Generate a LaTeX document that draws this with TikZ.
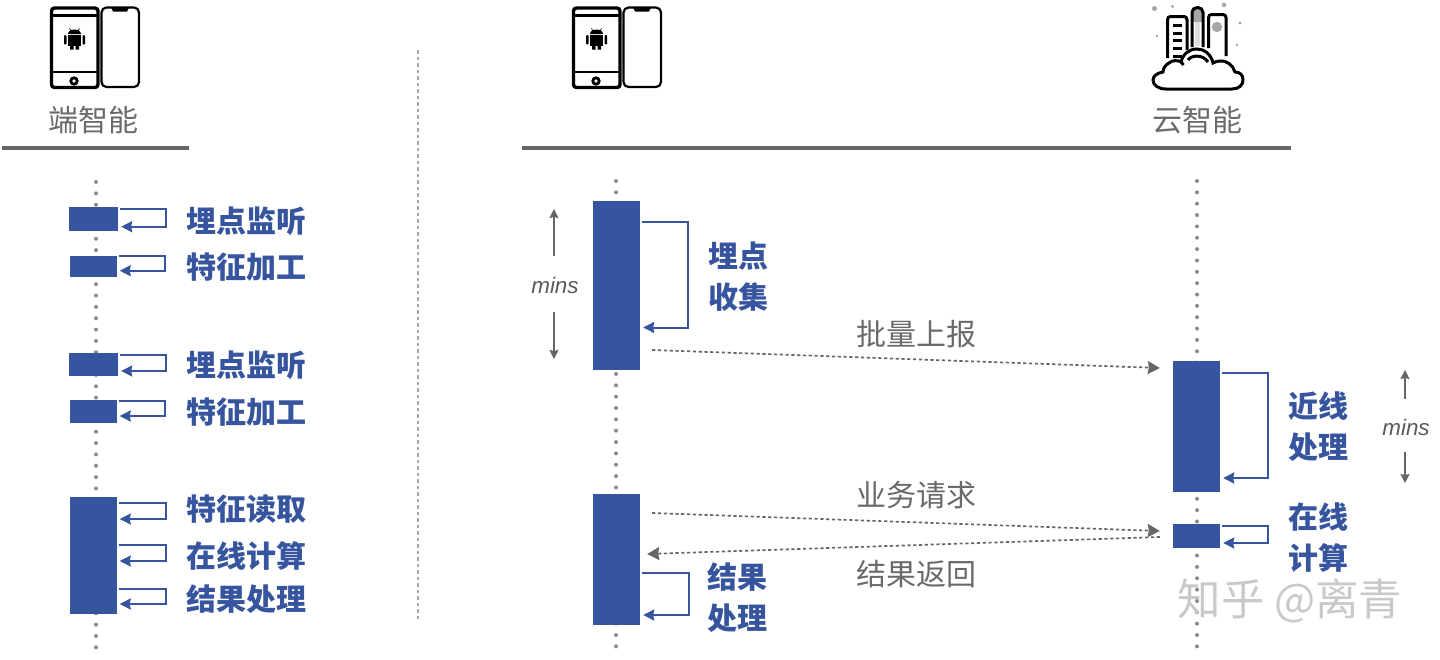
\documentclass[tikz,border=0pt]{standalone}
\usepackage{fontspec}
\setmainfont{Noto Sans CJK SC}
\newfontfamily\latinit[ItalicFont={Liberation Sans Italic}]{Liberation Sans}
\usetikzlibrary{arrows.meta}
\definecolor{barblue}{HTML}{37559F}
\definecolor{txtgray}{HTML}{6A6A6A}
\definecolor{rulegray}{HTML}{666666}
\definecolor{dotgray}{HTML}{8A8A8A}
\definecolor{markgray}{HTML}{C9C9C9}
\newcommand{\selfloop}[4]{\draw[selfline] ([xshift=2pt]#1.east |- 0,#2) -- (#4,#2) -- (#4,#3) -- ([xshift=3pt]#1.east |- 0,#3);}
\newcommand{\phonepair}[1]{
	\begin{scope}[shift={(#1,0)}]
		\draw[line width=3.4pt,rounded corners=3pt] (51.5,8) rectangle (98,87.5);
		\draw[line width=2.6pt] (51,15.5) -- (98,15.5) (51,72) -- (98,72);
		\draw[line width=2.8pt] (74,81) circle (3.2);
		\draw[line width=2.2pt,rounded corners=5pt] (101.5,7.5) rectangle (139,87);
		\fill (111,7.5) -- (129,7.5) -- (127,11.5) -- (113,11.5) -- cycle;
		% android
		\fill (68,35) rectangle (81,45.5);
		\fill (70,45) rectangle (73.5,49.5) (75.5,45) rectangle (79,49.5);
		\fill[rounded corners=1pt] (64,35) rectangle (66.5,44.5) (82.5,35) rectangle (85,44.5);
		\fill (68,34) arc (180:360:6.5 and 4.5) -- cycle;
		\draw[line width=.7pt] (69.5,28.5) -- (71,31) (79.5,28.5) -- (78,31);
	\end{scope}
}
\tikzset{
	bar/.style={fill=barblue,inner sep=0,minimum width=47pt},
	lifeline/.style={draw=dotgray,line width=4pt,line cap=round,dash pattern=on 0pt off 11.35pt},
	selfline/.style={draw=barblue,line width=2pt,-{Stealth[length=11pt,width=11pt,inset=1pt]}},
	msgline/.style={draw=rulegray,line width=1.7pt,dash pattern=on 3.2pt off 2.6pt,-{Stealth[length=12pt,width=13pt,inset=1pt]}},
	minsline/.style={draw=rulegray,line width=1.1pt,-{Stealth[length=9pt,width=9pt,inset=1pt]}},
	toprule/.style={draw=rulegray,line width=3.4pt},
	bluetxt/.style={text=barblue,font=\fontsize{30}{32}\selectfont\bfseries,inner sep=0,yshift=-.8pt},
	graytxt/.style={text=txtgray,font=\fontsize{30}{32}\selectfont,inner sep=0,yshift=-.8pt},
	minstxt/.style={text=txtgray!85!black,font=\latinit\fontsize{22.4}{26}\selectfont\itshape,inner sep=0}
}
\begin{document}
\begin{tikzpicture}[x=1pt,y=-1pt]
	\useasboundingbox (0,0) rectangle (1440,659);

	% headers
	\phonepair{0}
	\phonepair{522}
	\node[graytxt] (edgehead) at (93,119) {端智能};
	\node[graytxt] (cloudhead) at (1197,119) {云智能};
	\coordinate (edgeL) at (2,148);
	\coordinate (edgeR) at (189,148);
	\coordinate (cloudL) at (522,148);
	\coordinate (cloudR) at (1291,148);
	\draw[toprule] (edgeL) -- (edgeR);
	\draw[toprule] (cloudL) -- (cloudR);

	% cloud icon
	\begin{scope}[line width=3pt]
		\fill[gray!70] (1193,9) rectangle (1202,22);
		\fill[gray!25] (1195,22) rectangle (1200,46);
		\fill[gray!70] (1217,27) circle (5.2);
		\draw[rounded corners=3pt] (1167.5,58) -- (1167.5,16.5) -- (1187,16.5) -- (1187,50);
		\draw[rounded corners=5pt] (1192,47) -- (1192,7.5) -- (1203,7.5) -- (1203,47);
		\draw[rounded corners=3pt] (1208.5,48) -- (1208.5,14.5) -- (1226,14.5) -- (1226,56);
		\foreach \yy in {25,33,40.5,48,56}
			\draw (1173,\yy) -- (1182,\yy);
		\draw[fill=white,rounded corners=0pt] (1166,89) -- (1232,89)
			.. controls (1239,89) and (1243,85) .. (1243,80)
			.. controls (1243,75) and (1240,72) .. (1235,72)
			.. controls (1233,65) and (1226,60) .. (1220,61)
			.. controls (1217,61) and (1215,62) .. (1213,63)
			.. controls (1211,54) and (1204,49) .. (1197,49)
			.. controls (1189,49) and (1183,54) .. (1181,62)
			.. controls (1178,60) and (1172,60) .. (1169,63)
			.. controls (1165,65) and (1163,69) .. (1163,72)
			.. controls (1157,73) and (1153,76) .. (1153,80)
			.. controls (1153,85) and (1158,89) .. (1166,89) -- cycle;
		\draw (1188,60) .. controls (1191,55) and (1203,54) .. (1208,62);
		\draw (1181,62) -- (1183.5,65);
	\end{scope}
	\fill[gray!70] (1154.5,8.5) circle (2.5) (1172.5,6.5) circle (1.7) (1224,5) circle (2.3)
		(1240,23) circle (1.7) (1157,36) circle (1.3) (1237,45) circle (1.3);

	% separator
	\coordinate (sepT) at (418,50);
	\coordinate (sepB) at (418,620);
	\draw[draw=gray!70,line width=1.1pt,dash pattern=on 3.5pt off 3pt] (sepT) -- (sepB);

	% life lines
	\coordinate (lifeA) at (96,182);
	\coordinate (lifeAb) at (96,648);
	\coordinate (lifeB) at (616,181);
	\coordinate (lifeBb) at (616,648);
	\coordinate (lifeC) at (1197,181);
	\coordinate (lifeCb) at (1197,648);
	\draw[lifeline] (lifeA) -- (lifeAb);
	\draw[lifeline] (lifeB) -- (lifeBb);
	\draw[lifeline] (lifeC) -- (lifeCb);

	% left column
	\node[bar,minimum width=48.5pt,minimum height=24pt] (mon1) at (93.7,219) {};
	\node[bar,minimum height=21.5pt] (fea1) at (93,266.7) {};
	\node[bar,minimum width=48.5pt,minimum height=23pt] (mon2) at (93.7,364.5) {};
	\node[bar,minimum height=23pt] (fea2) at (93,411.5) {};
	\node[bar,minimum height=117pt] (run) at (93,555.5) {};
	\selfloop{mon1}{209}{226.7}{166}
	\selfloop{fea1}{256}{270.7}{165}
	\selfloop{mon2}{355}{371}{166}
	\selfloop{fea2}{401}{416}{165}
	\selfloop{run}{503}{519}{166}
	\selfloop{run}{545}{561}{166}
	\selfloop{run}{589}{604}{166}
	\node[bluetxt] (lb1) at (246,220) {埋点监听};
	\node[bluetxt] (lb2) at (246,266) {特征加工};
	\node[bluetxt] (lb3) at (246,364) {埋点监听};
	\node[bluetxt] (lb4) at (246,411) {特征加工};
	\node[bluetxt] (lb5) at (246,508) {特征读取};
	\node[bluetxt] (lb6) at (246,555) {在线计算};
	\node[bluetxt] (lb7) at (246,598) {结果处理};

	% right part
	\node[bar,minimum height=169pt] (collect) at (616.5,285.5) {};
	\node[bar,minimum height=131pt] (near) at (1196.5,426) {};
	\node[bar,minimum height=131pt] (result) at (616.5,559.5) {};
	\node[bar,minimum height=24pt] (online) at (1196.5,535.5) {};
	\selfloop{collect}{222}{327.5}{688}
	\selfloop{near}{372.5}{478}{1268}
	\selfloop{result}{573}{615}{688.5}
	\selfloop{online}{526}{543}{1268}
	\node[bluetxt] (rb1) at (738,255) {埋点};
	\node[bluetxt] (rb2) at (738,296) {收集};
	\node[bluetxt] (rb3) at (1318,405) {近线};
	\node[bluetxt] (rb4) at (1318,446) {处理};
	\node[bluetxt] (rb5) at (1318,516) {在线};
	\node[bluetxt] (rb6) at (1318,557) {计算};
	\node[bluetxt] (rb7) at (737,576) {结果};
	\node[bluetxt] (rb8) at (737,617) {处理};

	% messages
	\draw[msgline] ([xshift=12pt]collect.east |- 0,350) -- ([xshift=-13pt]near.west |- 0,368);
	\draw[msgline] ([xshift=12pt]result.east |- 0,513) -- ([xshift=-13pt]online.west |- 0,531);
	\draw[msgline] ([xshift=-13pt]online.west |- 0,537) -- ([xshift=7pt]result.east |- 0,554);
	\node[graytxt] (msg1) at (916,333) {批量上报};
	\node[graytxt] (msg2) at (916,494) {业务请求};
	\node[graytxt] (msg3) at (916,573) {结果返回};

	% mins
	\node[minstxt] (minsL) at (555,285) {mins};
	\node[minstxt] (minsR) at (1406,427) {mins};
	\coordinate (minsLt) at (554,209);
	\coordinate (minsLb) at (554,359);
	\coordinate (minsRt) at (1405,370);
	\coordinate (minsRb) at (1405,483);
	\draw[minsline] (554,256) -- (minsLt);
	\draw[minsline] (554,312) -- (minsLb);
	\draw[minsline] (1405,399) -- (minsRt);
	\draw[minsline] (1405,452) -- (minsRb);

	\node[text=markgray,font=\fontsize{43.5}{46}\selectfont,inner sep=0] (mark) at (1290,600.5) {知乎 @离青};
\end{tikzpicture}
\end{document}
